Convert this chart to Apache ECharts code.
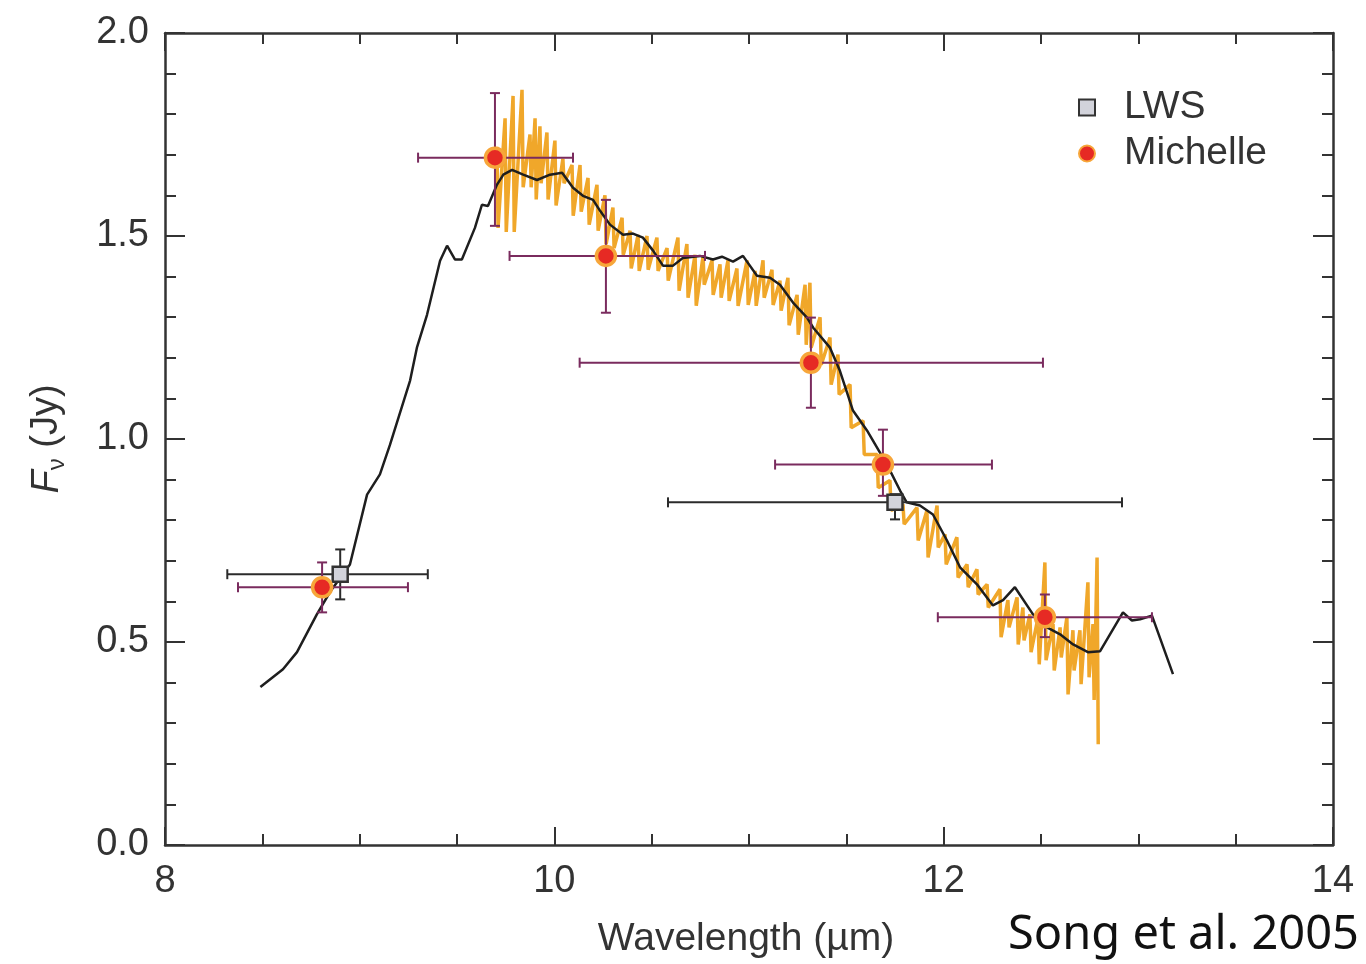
<!DOCTYPE html>
<html>
<head>
<meta charset="utf-8">
<script src="https://cdn.jsdelivr.net/npm/echarts@6/dist/echarts.min.js"></script>
<style>
html,body{margin:0;padding:0;background:#fff;}
#chart{width:1366px;height:964px;}
</style>
</head>
<body>
<div id="chart"></div>
<script>
// ---- Axis ticks ----
const xTicks = [8, 10, 12, 14];
const yTicks = [0.0, 0.5, 1.0, 1.5, 2.0];

// ---- LWS spectrum (black line) ----
const specX = [8.49, 8.606, 8.678, 8.78, 8.85, 8.95, 9.038, 9.104, 9.156, 9.259, 9.294, 9.346, 9.413, 9.449, 9.49, 9.525, 9.592, 9.628, 9.659, 9.705, 9.738, 9.783, 9.84, 9.911, 9.978, 10.04, 10.096, 10.147, 10.199, 10.235, 10.286, 10.353, 10.404, 10.455, 10.507, 10.558, 10.61, 10.66, 10.748, 10.815, 10.861, 10.918, 10.969, 11.041, 11.108, 11.159, 11.226, 11.298, 11.33, 11.416, 11.467, 11.534, 11.606, 11.709, 11.776, 11.81, 11.878, 11.945, 12.017, 12.084, 12.171, 12.253, 12.305, 12.366, 12.459, 12.531, 12.598, 12.665, 12.741, 12.803, 12.921, 12.967, 13.009, 13.07, 13.178];
const specY = [0.389, 0.433, 0.475, 0.568, 0.625, 0.691, 0.863, 0.913, 0.986, 1.144, 1.225, 1.306, 1.439, 1.476, 1.442, 1.442, 1.52, 1.577, 1.574, 1.626, 1.651, 1.663, 1.651, 1.638, 1.651, 1.656, 1.619, 1.599, 1.589, 1.562, 1.528, 1.503, 1.506, 1.496, 1.464, 1.427, 1.427, 1.446, 1.451, 1.442, 1.449, 1.437, 1.451, 1.402, 1.397, 1.38, 1.336, 1.299, 1.274, 1.225, 1.168, 1.07, 1.021, 0.937, 0.873, 0.844, 0.836, 0.814, 0.75, 0.684, 0.642, 0.59, 0.603, 0.635, 0.568, 0.536, 0.519, 0.494, 0.475, 0.477, 0.573, 0.553, 0.556, 0.565, 0.421];

// ---- Michelle spectrum (orange, noisy): wavelength, upper and lower spike ends ----
const michX = [9.705, 9.747, 9.788, 9.834, 9.875, 9.901, 9.926, 9.962, 10.003, 10.044, 10.091, 10.132, 10.173, 10.219, 10.26, 10.301, 10.348, 10.389, 10.43, 10.476, 10.527, 10.579, 10.635, 10.681, 10.723, 10.764, 10.81, 10.851, 10.892, 10.938, 10.99, 11.031, 11.072, 11.118, 11.159, 11.2, 11.247, 11.288, 11.313, 11.365, 11.416, 11.457, 11.519, 11.586, 11.658, 11.724, 11.791, 11.863, 11.914, 11.966, 12.007, 12.068, 12.12, 12.171, 12.223, 12.289, 12.33, 12.377, 12.407, 12.443, 12.485, 12.52, 12.562, 12.598, 12.633, 12.664, 12.7, 12.741, 12.767, 12.788];
const michHi = [1.72, 1.79, 1.845, 1.86, 1.75, 1.79, 1.77, 1.755, 1.735, 1.69, 1.675, 1.675, 1.643, 1.626, 1.6, 1.57, 1.545, 1.513, 1.503, 1.5, 1.496, 1.47, 1.496, 1.48, 1.454, 1.451, 1.44, 1.43, 1.44, 1.42, 1.44, 1.414, 1.44, 1.417, 1.39, 1.397, 1.355, 1.38, 1.385, 1.3, 1.25, 1.208, 1.134, 1.045, 0.962, 0.898, 0.839, 0.831, 0.824, 0.836, 0.765, 0.758, 0.691, 0.679, 0.642, 0.63, 0.603, 0.61, 0.585, 0.568, 0.561, 0.696, 0.544, 0.536, 0.561, 0.529, 0.529, 0.647, 0.544, 0.708];
const michLo = [1.52, 1.51, 1.51, 1.62, 1.62, 1.59, 1.63, 1.59, 1.575, 1.63, 1.55, 1.56, 1.528, 1.513, 1.48, 1.47, 1.454, 1.42, 1.414, 1.417, 1.414, 1.39, 1.365, 1.348, 1.328, 1.38, 1.355, 1.348, 1.34, 1.328, 1.33, 1.328, 1.348, 1.33, 1.316, 1.28, 1.257, 1.232, 1.225, 1.183, 1.134, 1.11, 1.028, 0.962, 0.88, 0.824, 0.79, 0.75, 0.708, 0.733, 0.691, 0.659, 0.635, 0.617, 0.585, 0.512, 0.536, 0.494, 0.504, 0.475, 0.445, 0.455, 0.43, 0.462, 0.371, 0.43, 0.396, 0.413, 0.357, 0.248];

// ---- LWS photometry (squares) ----
const lwsX = [8.90, 11.75];
const lwsY = [0.667, 0.844];
const lwsXLo = [8.32, 10.584];
const lwsXHi = [9.35, 12.916];
const lwsYLo = [0.605, 0.802];
const lwsYHi = [0.728, 0.864];

// ---- Michelle photometry (circles) ----
const mpX = [8.807, 9.695, 10.265, 11.318, 11.688, 12.52];
const mpY = [0.635, 1.693, 1.451, 1.188, 0.937, 0.561];
const mpXLo = [8.375, 9.30, 9.77, 10.13, 11.134, 11.97];
const mpXHi = [9.248, 10.096, 10.774, 12.51, 12.248, 13.07];
const mpYLo = [0.573, 1.525, 1.311, 1.077, 0.86, 0.512];
const mpYHi = [0.696, 1.852, 1.589, 1.299, 1.023, 0.617];

// ---- build series data ----
const specData = specX.map((x, i) => [x, specY[i]]);
const michData = [];
michX.forEach((x, i) => { michData.push([x, michHi[i]]); michData.push([x + 0.006, michLo[i]]); });
const lwsPts = lwsX.map((x, i) => [x, lwsY[i]]);
const mpPts = mpX.map((x, i) => [x, mpY[i]]);
const lwsErr = lwsX.map((x, i) => [x, lwsY[i], lwsXLo[i], lwsXHi[i], lwsYLo[i], lwsYHi[i]]);
const mpErr = mpX.map((x, i) => [x, mpY[i], mpXLo[i], mpXHi[i], mpYLo[i], mpYHi[i]]);

function errRender(color) {
  return function (params, api) {
    const c = api.coord([api.value(0), api.value(1)]);
    const l = api.coord([api.value(2), api.value(1)]);
    const r = api.coord([api.value(3), api.value(1)]);
    const b = api.coord([api.value(0), api.value(4)]);
    const t = api.coord([api.value(0), api.value(5)]);
    const cap = 5;
    const st = { stroke: color, lineWidth: 2 };
    const line = (x1, y1, x2, y2) => ({ type: 'line', shape: { x1, y1, x2, y2 }, style: st });
    return {
      type: 'group',
      children: [
        line(l[0], c[1], r[0], c[1]),
        line(l[0], c[1] - cap, l[0], c[1] + cap),
        line(r[0], c[1] - cap, r[0], c[1] + cap),
        line(c[0], t[1], c[0], b[1]),
        line(c[0] - cap, t[1], c[0] + cap, t[1]),
        line(c[0] - cap, b[1], c[0] + cap, b[1])
      ]
    };
  };
}

const axisCol = '#333';
const font = 'Liberation Sans, Arial, sans-serif';
const baseX = {
  type: 'value', min: xTicks[0], max: xTicks[xTicks.length - 1], interval: 2,
  axisLine: { show: true, onZero: false, lineStyle: { color: axisCol, width: 2.5 } },
  axisTick: { show: true, inside: true, length: 18, lineStyle: { color: axisCol, width: 2 } },
  minorTick: { show: true, splitNumber: 4, length: 11, lineStyle: { color: axisCol, width: 2 } },
  splitLine: { show: false }, minorSplitLine: { show: false }
};
const baseY = {
  type: 'value', min: yTicks[0], max: yTicks[yTicks.length - 1], interval: 0.5,
  axisLine: { show: true, onZero: false, lineStyle: { color: axisCol, width: 2.5 } },
  axisTick: { show: true, inside: true, length: 20, lineStyle: { color: axisCol, width: 2 } },
  minorTick: { show: true, splitNumber: 5, length: 11, lineStyle: { color: axisCol, width: 2 } },
  splitLine: { show: false }, minorSplitLine: { show: false }
};

const chart = echarts.init(document.getElementById('chart'), null, { renderer: 'canvas' });
chart.setOption({
  backgroundColor: '#ffffff',
  animation: false,
  textStyle: { fontFamily: font },
  grid: { left: 165, right: 33, top: 33, bottom: 116, containLabel: false },
  legend: {
    data: ['LWS', 'Michelle'],
    orient: 'vertical', left: 1073, top: 83, itemGap: 7,
    itemWidth: 16, itemHeight: 16,
    textStyle: { fontSize: 39, color: '#333', fontFamily: font, padding: [0, 0, 0, 24] }
  },
  xAxis: [
    Object.assign({}, baseX, {
      position: 'bottom',
      name: 'Wavelength (µm)', nameLocation: 'middle', nameGap: 75,
      nameTextStyle: { fontSize: 39, color: '#333', fontFamily: font, padding: [0, 6, 0, 0] },
      axisLabel: { show: true, fontSize: 38, color: '#333', margin: 18, fontFamily: font,
        formatter: v => String(v) }
    }),
    Object.assign({}, baseX, { position: 'top', axisLabel: { show: false } })
  ],
  yAxis: [
    Object.assign({}, baseY, {
      position: 'left',
      name: '{i|F}{s|ν}{n| (Jy)}', nameLocation: 'middle', nameGap: 96, nameRotate: 90,
      nameTextStyle: {
        color: '#333', fontFamily: font,
        rich: {
          i: { fontSize: 38, fontStyle: 'italic', color: '#333', lineHeight: 44, verticalAlign: 'middle' },
          s: { fontSize: 24, color: '#333', lineHeight: 44, verticalAlign: 'bottom' },
          n: { fontSize: 38, color: '#333', lineHeight: 44, verticalAlign: 'middle' }
        }
      },
      axisLabel: { show: true, fontSize: 38, color: '#333', margin: 16, fontFamily: font,
        formatter: v => v.toFixed(1) }
    }),
    Object.assign({}, baseY, { position: 'right', axisLabel: { show: false } })
  ],
  series: [
    {
      name: 'Michelle spectrum', type: 'line', xAxisIndex: 0, yAxisIndex: 0,
      data: michData, showSymbol: false, symbol: 'none', z: 1,
      lineStyle: { color: '#f0a72a', width: 3.5 }
    },
    {
      name: 'LWS spectrum', type: 'line', xAxisIndex: 0, yAxisIndex: 0,
      data: specData, showSymbol: false, symbol: 'none', z: 2,
      lineStyle: { color: '#1e1e1e', width: 2.5 }
    },
    {
      name: 'LWS err', type: 'custom', xAxisIndex: 0, yAxisIndex: 0, z: 3,
      renderItem: errRender('#2b2b2b'), data: lwsErr,
      encode: { x: [0, 2, 3], y: [1, 4, 5] }
    },
    {
      name: 'Michelle err', type: 'custom', xAxisIndex: 0, yAxisIndex: 0, z: 3,
      renderItem: errRender('#7a2b5e'), data: mpErr,
      encode: { x: [0, 2, 3], y: [1, 4, 5] }
    },
    {
      name: 'LWS', type: 'scatter', xAxisIndex: 0, yAxisIndex: 0, z: 5,
      symbol: 'rect', symbolSize: 15, data: lwsPts,
      itemStyle: { color: '#d2d3db', borderColor: '#333', borderWidth: 2.5, opacity: 1 }
    },
    {
      name: 'Michelle', type: 'scatter', xAxisIndex: 0, yAxisIndex: 0, z: 5,
      symbol: 'circle', symbolSize: 19, data: mpPts,
      itemStyle: { color: '#e62a24', borderColor: '#f7a63a', borderWidth: 3.5, opacity: 1 }
    }
  ],
  graphic: [
    {
      type: 'text', left: 1008, top: 912, z: 10,
      style: { text: 'Song et al. 2005', fontSize: 47, fontFamily: 'Noto Sans, Open Sans, sans-serif', fill: '#111' }
    }
  ]
});
</script>
</body>
</html>
